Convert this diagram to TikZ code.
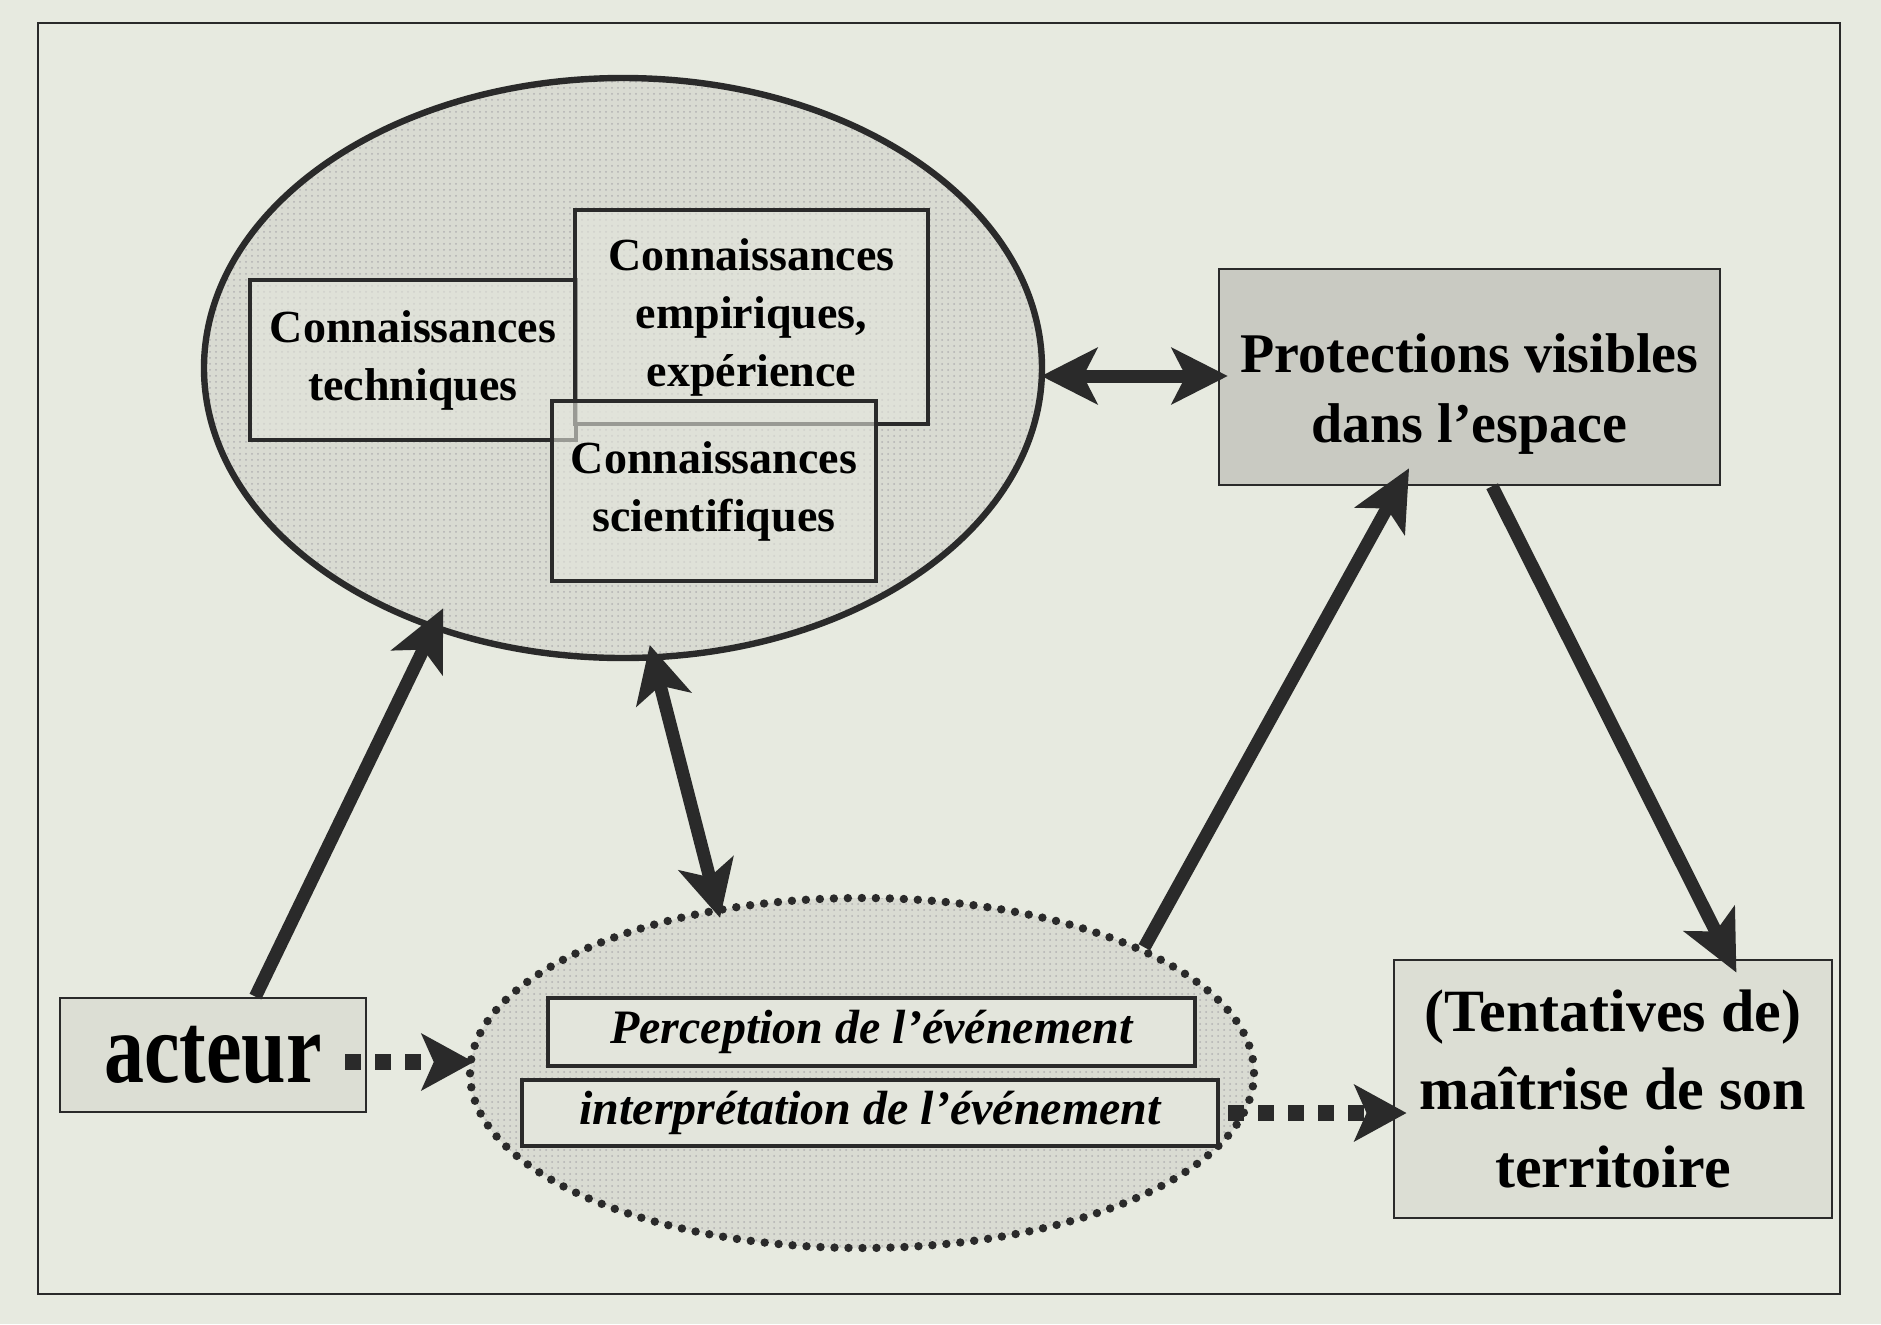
\documentclass[tikz,border=0pt]{standalone}
\usepackage{fontspec}
\setmainfont{Liberation Serif}
\usetikzlibrary{shapes.geometric,arrows.meta,patterns,calc}
\definecolor{paper}{HTML}{E7EAE0}
\definecolor{ink}{HTML}{2A2A2A}
\definecolor{stip}{HTML}{D9DBD2}
\definecolor{boxfill}{HTML}{E3E5DC}
\definecolor{protfill}{HTML}{C9CAC2}
\definecolor{tentfill}{HTML}{DCDED4}
\begin{document}
\begin{tikzpicture}[x=0.5pt,y=-0.5pt,
  inbox/.style={draw=ink, line width=1.8pt, fill=boxfill, fill opacity=0.6, text opacity=1, inner sep=0pt, align=center, font=\bfseries\fontsize{23}{29}\selectfont},
  evbox/.style={draw=ink, line width=2pt, fill=boxfill, inner sep=0pt, align=center, font=\bfseries\itshape\fontsize{24}{28}\selectfont},
  bigarrow/.style={draw=ink, line width=6.5pt, -{Stealth[length=30pt,width=28pt,inset=7pt]}},
  twoarrow/.style={draw=ink, line width=6.5pt, {Stealth[length=28pt,width=28pt,inset=7pt]}-{Stealth[length=28pt,width=28pt,inset=7pt]}},
  dotarrow/.style={draw=ink, line width=8pt, dash pattern=on 8pt off 7pt, -{Stealth[length=26pt,width=28pt,inset=6pt]}}
]
\fill[paper] (0,0) rectangle (1881,1324);
\useasboundingbox (0,0) rectangle (1881,1324);
\draw[ink, line width=1.2pt] (38,23) rectangle (1840,1294);

% big ellipse
\node[ellipse, draw=ink, line width=3.2pt, preaction={fill=stip}, pattern=dots, pattern color=gray!60, minimum width=419pt, minimum height=290pt, inner sep=0pt] (big) at (623,368) {};
\node[inbox, minimum width=163pt, minimum height=80pt] (tech) at (413,360) {Connaissances\\techniques};
\node[inbox, minimum width=176.5pt, minimum height=107pt] (emp) at (751.5,317) {Connaissances\\empiriques,\\expérience};
\node[inbox, minimum width=162pt, minimum height=90pt] (sci) at (714,491) {Connaissances\\scientifiques};

% protections
\node[draw=ink, line width=1.2pt, fill=protfill, inner sep=0pt, align=center, minimum width=250.5pt, minimum height=108pt, font=\bfseries\fontsize{28}{35}\selectfont] (prot) at (1469.5,377) {\rule{0pt}{36pt}Protections visibles\\dans l'espace};

% acteur
\node[draw=ink, line width=1.4pt, fill=tentfill, inner sep=0pt, minimum width=153pt, minimum height=57pt, font=\bfseries\fontsize{50}{50}\selectfont] (act) at (213,1055) {\scalebox{0.8}[1]{acteur}};

% dotted ellipse
\node[ellipse, draw=ink, line width=4.2pt, dash pattern=on 0pt off 7pt, line cap=round, preaction={fill=stip}, pattern=dots, pattern color=gray!60, minimum width=392pt, minimum height=175pt, inner sep=0pt] (dot) at (862,1073) {};
\node[evbox, minimum width=323.5pt, minimum height=34pt] (perc) at (871.5,1032) {Perception de l’événement};
\node[evbox, minimum width=348pt, minimum height=33pt] (interp) at (870,1113) {interprétation de l’événement};

% tentatives
\node[draw=ink, line width=1.4pt, fill=tentfill, inner sep=0pt, align=center, minimum width=219pt, minimum height=129pt, font=\bfseries\fontsize{30}{39}\selectfont] (tent) at (1613,1089) {(Tentatives de)\\maîtrise de son\\territoire};

% connectors
\draw[bigarrow, shorten >=-12pt] (act.54) -- (big.234);
\draw[twoarrow, shorten <=-8pt, shorten >=-6pt] (big.276.5) -- (dot.131);
\draw[bigarrow] (dot.24) -- ($(prot.south west)!0.38!(prot.south east)+(0,-18)$);
\draw[bigarrow] ($(prot.south west)!0.545!(prot.south east)$) -- ($(tent.north west)!0.78!(tent.north east)+(0,14)$);
\draw[twoarrow] ($(big.east)+(-4,8)$) -- ($(big.east -| prot.west)+(10,8)$);
\draw[dotarrow] ($(act.east)+(-22,7)$) -- ($(act.east -| dot.west)+(8,7)$);
\draw[dotarrow] ($(interp.east)+(8,0)$) -- ($(interp.east -| tent.west)+(14,0)$);
\end{tikzpicture}
\end{document}
